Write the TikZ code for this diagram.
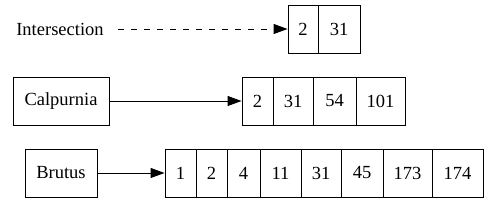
\documentclass[tikz,border=0pt]{standalone}
\usepackage{fontspec}
\setmainfont{Liberation Serif}
\usetikzlibrary{arrows.meta}
\begin{document}
\begin{tikzpicture}[x=1pt,y=-1pt,
  every node/.style={font=\fontsize{18.5}{20}\selectfont},
  cell/.style={draw,rectangle,inner sep=0pt,minimum height=48pt,line width=0.9pt},
  termbox/.style={draw,rectangle,inner sep=0pt,minimum height=48pt,line width=0.9pt},
  plain/.style={inner sep=0pt,minimum height=20pt},
  link/.style={line width=0.9pt,-{Triangle[length=14pt,width=10pt]}}
]
\path[use as bounding box] (0,0) rectangle (488,203);
% Row 1
\node[plain,minimum width=116pt] (inter) at (60,29) {Intersection};
\node[cell,minimum width=30pt] (i1) at (303,29) {2};
\node[cell,minimum width=42pt] (i2) at (339,29) {31};
\draw[link,dash pattern=on 6pt off 7pt] (inter.east) -- (i1.west);
% Row 2
\node[termbox,minimum width=96pt] (calp) at (61,101) {Calpurnia};
\node[cell,minimum width=31pt] (c1) at (257.5,101) {2};
\node[cell,minimum width=40pt] (c2) at (293,101) {31};
\node[cell,minimum width=43pt] (c3) at (334.5,101) {54};
\node[cell,minimum width=49pt] (c4) at (380.5,101) {101};
\draw[link] (calp.east) -- (c1.west);
% Row 3
\node[termbox,minimum width=72pt] (brut) at (61,173) {Brutus};
\node[cell,minimum width=31pt] (b1) at (180.5,173) {1};
\node[cell,minimum width=31pt] (b2) at (211.5,173) {2};
\node[cell,minimum width=33pt] (b3) at (243.5,173) {4};
\node[cell,minimum width=41pt] (b4) at (280.5,173) {11};
\node[cell,minimum width=40pt] (b5) at (321,173) {31};
\node[cell,minimum width=42pt] (b6) at (362,173) {45};
\node[cell,minimum width=49pt] (b7) at (407.5,173) {173};
\node[cell,minimum width=51pt] (b8) at (457.5,173) {174};
\draw[link] (brut.east) -- (b1.west);
\end{tikzpicture}
\end{document}
